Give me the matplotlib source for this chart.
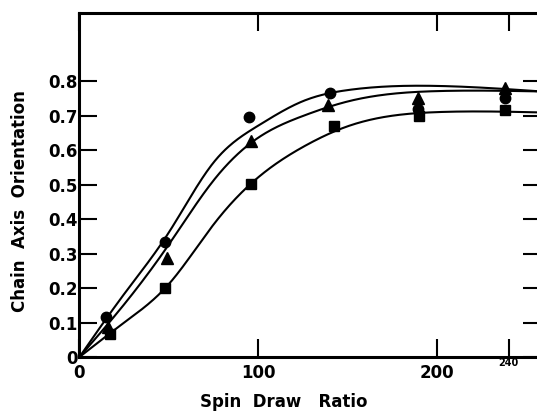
import numpy as np
import matplotlib
matplotlib.use("Agg")
import matplotlib.pyplot as plt

# measured points (spin draw ratio vs chain axis orientation)
circle_x = [15, 48, 95, 140, 189, 238]
circle_y = [0.117, 0.335, 0.697, 0.767, 0.72, 0.752]
tri_x = [16, 49, 96, 139, 189, 238]
tri_y = [0.088, 0.287, 0.626, 0.733, 0.752, 0.781]
sq_x = [17, 48, 96, 142, 190, 238]
sq_y = [0.067, 0.20, 0.503, 0.67, 0.70, 0.718]

# hand drawn trend curves, knots along each line
curve_x = [0, 25, 50, 75, 100, 125, 150, 200, 258]
circle_curve_y = [0, 0.183, 0.362, 0.565, 0.672, 0.743, 0.775, 0.787, 0.771]
tri_curve_y = [0, 0.153, 0.327, 0.513, 0.637, 0.700, 0.742, 0.772, 0.771]
sq_curve_y = [0, 0.100, 0.212, 0.385, 0.522, 0.610, 0.670, 0.711, 0.710]

xticks = [0, 100, 200, 240]
xticklabels = ["0", "100", "200", ""]
yticks = [0, 0.1, 0.2, 0.3, 0.4, 0.5, 0.6, 0.7, 0.8]
yticklabels = ["0", "0.1", "0.2", "0.3", "0.4", "0.5", "0.6", "0.7", "0.8"]


def spline(xk, yk, n=400):
    # natural cubic spline through the knots
    xk = np.asarray(xk, float)
    yk = np.asarray(yk, float)
    h = np.diff(xk)
    m = len(xk)
    A = np.zeros((m, m))
    r = np.zeros(m)
    A[0, 0] = A[-1, -1] = 1
    for i in range(1, m - 1):
        A[i, i - 1] = h[i - 1]
        A[i, i] = 2 * (h[i - 1] + h[i])
        A[i, i + 1] = h[i]
        r[i] = 3 * ((yk[i + 1] - yk[i]) / h[i] - (yk[i] - yk[i - 1]) / h[i - 1])
    c = np.linalg.solve(A, r)
    b = (yk[1:] - yk[:-1]) / h - h * (2 * c[:-1] + c[1:]) / 3
    d = (c[1:] - c[:-1]) / (3 * h)
    xs = np.linspace(xk[0], xk[-1], n)
    idx = np.clip(np.searchsorted(xk, xs) - 1, 0, m - 2)
    t = xs - xk[idx]
    return xs, yk[idx] + b[idx] * t + c[idx] * t ** 2 + d[idx] * t ** 3


fig = plt.figure(figsize=(5.37, 4.12), dpi=100)
ax = fig.add_axes([0.148, 0.1335, 0.8595, 0.836])

for cy in [circle_curve_y, tri_curve_y, sq_curve_y]:
    xs, ys = spline(curve_x, cy)
    ax.plot(xs, ys, color="black", lw=1.5)

ax.plot(sq_x, sq_y, "s", color="black", ms=7)
ax.plot(circle_x, circle_y, "o", color="black", ms=7.5)
ax.plot(tri_x, tri_y, "^", color="black", ms=8)

ax.set_xlim(0, 258)
ax.set_ylim(0, 1.0)
ax.set_xticks(xticks)
ax.set_xticklabels(xticklabels)
ax.set_yticks(yticks)
ax.set_yticklabels(yticklabels)

for s in ax.spines.values():
    s.set_linewidth(2.2)

ax.tick_params(axis="x", direction="in", top=True, length=13, width=1.5, pad=5,
               labelsize=12)
ax.tick_params(axis="y", direction="in", right=True, length=13, width=1.5, pad=1,
               labelsize=12)
for lab in ax.get_xticklabels() + ax.get_yticklabels():
    lab.set_fontweight("bold")

# small label under the last tick
ax.annotate("240", xy=(240, 0), xytext=(0, -1), textcoords="offset points",
            ha="center", va="top", fontsize=7, fontweight="bold")

fig.text(0.529, 0.012, "Spin  Draw   Ratio", ha="center", va="baseline",
         fontsize=12, fontweight="bold")
fig.text(0.037, 0.512, "Chain  Axis  Orientation", ha="center", va="center",
         rotation=90, fontsize=12, fontweight="bold")

fig.savefig("out.png", dpi=100, facecolor="white")
